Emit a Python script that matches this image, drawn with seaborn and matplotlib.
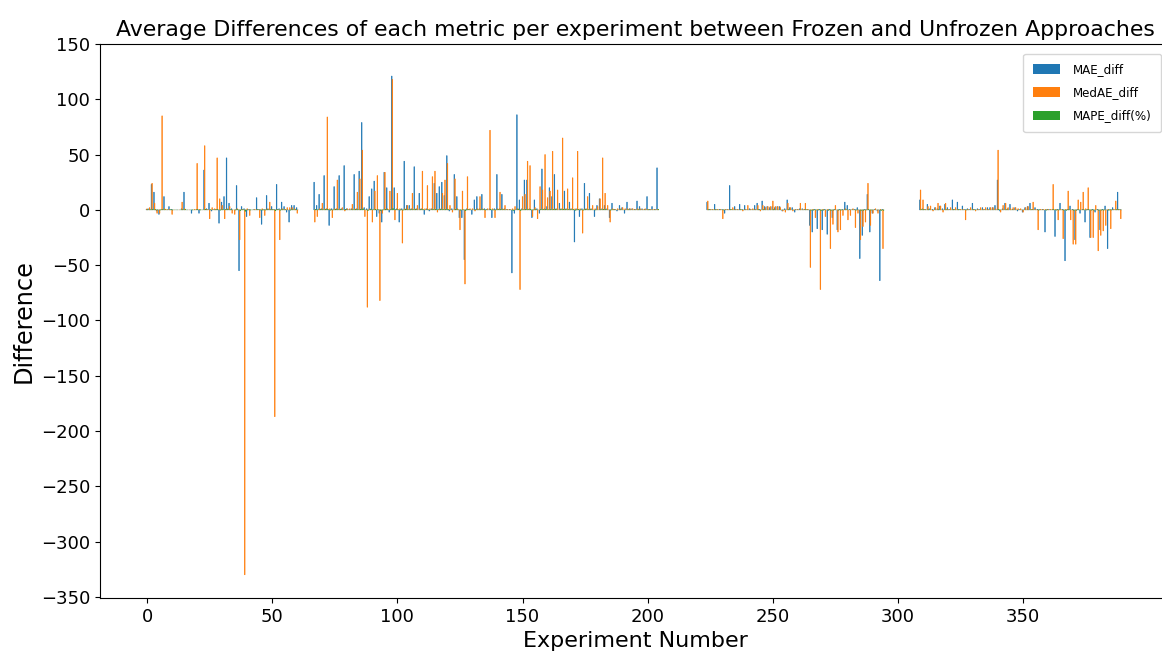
import matplotlib
matplotlib.use("Agg")
import matplotlib.pyplot as plt
import pandas as pd
import seaborn as sns

METRICS = ["MAE_diff", "MedAE_diff", "MAPE_diff(%)"]
COLORS = ["#1f77b4", "#ff7f0e", "#2ca02c"]

# ---- Segment A: experiments 0..60
START_A = 0
MAE_A = [0.5, 1, 23, 16, -1, -4, 0.5, 12, 0, 3,
         0.5, 0, 0, 0, 1, 16, 0, 0, -3, 0,
         0.5, -3, 0, 36, 1, 6, -1, 0.5, 0.5, -12,
         7, 12, 47, 6, 1, 0, 22, -55, 3, 1,
         -6, 0.5, 0, 0.5, 11, 0.5, -13, 0.5, 13, 1,
         3, 0.5, 23, 1, 7, 3, -2, -11, 4, 4, 2]
MEDAE_A = [1, 2, 24, 6, -3, -3, 85, 1, 0.5, 0.5,
           -4, 0, 0, 0, 7, 1, 0, 0, 0, 0.5,
           42, 0.5, 0, 58, 0.5, -8, 2, 1, 47, 10,
           4, -8, 1, 3, -3, -4, 1, -27, 0.5, -330,
           1, -5, 0, 0.5, 0.5, -7, 1, -5, 1, 7,
           0.5, -187, 0.5, -27, 1, 0.5, 2, 2, 2, 1, -3]
MAPE_A = [0.1, 0.1, 0.4, 0.3, -0.1, -0.1, 0.2, 0.2, 0.0, 0.1,
          -0.1, 0.0, 0.0, 0.0, 0.1, 0.3, 0.0, 0.0, -0.1, 0.0,
          0.3, -0.1, 0.0, 0.5, 0.0, 0.1, 0.0, 0.1, 0.3, -0.2,
          0.1, 0.2, 0.4, 0.1, 0.0, -0.1, 0.3, -0.6, 0.1, -1.2,
          -0.1, -0.1, 0.0, 0.0, 0.2, -0.1, -0.2, -0.1, 0.2, 0.1,
          0.1, -0.8, 0.3, -0.2, 0.1, 0.1, 0.0, -0.2, 0.1, 0.1, 0.0]

# ---- Segment B: experiments 67..204
START_B = 67
MAE_B = [25, 4, 14, 1, 31, 1, -14, 1, 21, 1,
         31, 1, 40, 1, 0.5, 1, 32, 1, 35, 79,
         2, 1, 12, 19, 26, -6, -3, -11, 34, 20,
         -2, 121, 20, 1, -11, 1, 44, 4, 4, 1,
         39, 1, 15, 1, -4, 1, -1, 1, 24, 15,
         21, 25, 13, 49, -1, 1, 32, 12, -7, -7,
         -45, 1, 0.5, -4, 9, 12, 1, 14, 1, 0.5,
         1, -7, 1, 32, 1, 14, 1, 0.5, 0.5, -57,
         -3, 86, 9, 1, 27, 27, 1, -7, 9, 1,
         -3, 37, 1, 3, 20, 12, 32, 1, 6, 1,
         17, 1, 7, 1, -29, 1, -6, 1, 24, 1,
         15, 1, -6, 4, 10, 1, 4, 1, -7, 6,
         0.5, -1, 4, 2, -3, 7, 1, 1, 0.5, 8,
         3, 1, 0.5, 12, 0.5, 3, 0.5, 38]
MEDAE_B = [-11, -6, 1, 6, 1, 84, 1, -7, 1, 27,
           1, 2, -1, 1, 1, 5, 1, 16, 28, 54,
           -6, -88, 1, -11, 17, 31, -82, -3, 34, 1,
           17, 118, -9, 15, 1, -30, 1, 4, 1, 15,
           1, 4, 1, 35, 1, 22, 1, 30, 35, -2,
           1, 15, 27, 42, 4, -2, 28, 1, -18, 17,
           -67, 30, 1, 1, -1, 1, 12, 1, -7, 1,
           72, 1, -7, 1, 16, 1, 4, 0.5, 0.5, 1,
           3, 1, -72, 12, 14, 44, 40, -6, 2, -8,
           21, 18, 50, 11, 17, 53, 1, 18, 1, 65,
           1, 19, 1, 29, 1, 53, 1, -21, 1, 12,
           1, 4, 1, 3, 10, 47, 15, 4, -11, 1,
           0.5, 1, 1, 2, 1, 1, 1, 1, 0.5, 1,
           1, 0.5, 1, 0.5, 0.5, 0.5, 0.5, 0.5]
MAPE_B = [0.3, 0.1, 0.2, 0.1, 0.4, 0.6, -0.2, -0.1, 0.3, 0.2,
          0.4, 0.0, 0.5, 0.0, 0.0, 0.1, 0.4, 0.2, 0.5, 0.9,
          0.0, -0.6, 0.2, 0.1, 0.3, 0.2, -0.5, -0.1, 0.4, 0.2,
          0.1, 1.2, 0.1, 0.2, -0.1, -0.2, 0.5, 0.1, 0.1, 0.2,
          0.4, 0.0, 0.2, 0.3, 0.0, 0.2, 0.0, 0.3, 0.4, 0.2,
          0.3, 0.3, 0.2, 0.6, 0.0, 0.0, 0.4, 0.1, -0.2, 0.1,
          -0.7, 0.3, 0.0, 0.0, 0.1, 0.1, 0.1, 0.2, -0.1, 0.0,
          0.5, -0.1, -0.1, 0.3, 0.2, 0.2, 0.0, 0.0, 0.0, -0.6,
          0.0, 0.8, -0.5, 0.1, 0.3, 0.4, 0.3, -0.1, 0.1, 0.0,
          0.2, 0.4, 0.4, 0.1, 0.2, 0.3, 0.3, 0.0, 0.3, 0.6,
          0.2, 0.2, 0.1, 0.3, -0.3, 0.5, -0.1, -0.2, 0.3, 0.1,
          0.2, 0.0, -0.1, 0.0, 0.1, 0.5, 0.2, 0.0, -0.2, 0.1,
          0.0, 0.0, 0.1, 0.0, 0.0, 0.1, 0.0, 0.0, 0.0, 0.1,
          0.0, 0.0, 0.0, 0.1, 0.0, 0.0, 0.0, 0.3]

# ---- Segment C: experiments 224..294
START_C = 224
MAE_C = [7, 0.5, 0.5, 5, 0.5, 0.5, 0.5, -3, 0.5, 22,
         0.5, 3, 0.5, 5, 0.5, 4, 0.5, 1, 0.5, 4,
         6, 0.5, 8, 3, 3, 2, 3, 2, 3, 3,
         -1, 1, 9, 2, 2, -2, 0.5, 1, 1, 0.5,
         0.5, -14, -20, 0.5, -17, 0.5, -18, 0.5, -22, 0.5,
         -7, 0.5, -18, 0.5, 0.5, 7, 4, 0.5, 0.5, 0.5,
         2, -44, -23, 0.5, 14, -20, -3, 0.5, -1, -64,
         0.5]
MEDAE_C = [8, 0.5, 0.5, 0.5, 0.5, 0.5, -8, 0.5, 0.5, 0.5,
           2, 0.5, 0.5, 0.5, -1, 0.5, 4, 0.5, 1, 0.5,
           4, -1, 4, 2, 3, 3, 8, 3, 3, 2,
           -1, -2, 6, 2, -1, 0.5, 0.5, 6, 0.5, 6,
           0.5, -52, 0.5, -7, 0.5, -72, 0.5, -6, 0.5, -35,
           -13, 4, -20, -18, -5, 1, -9, -5, 1, -16,
           -3, -27, -15, -11, 24, -14, -3, 1, -3, 0.5,
           -35]
MAPE_C = [0.1, 0.0, 0.0, 0.1, 0.0, 0.0, -0.1, 0.0, 0.0, 0.2,
          0.0, 0.0, 0.0, 0.1, 0.0, 0.0, 0.0, 0.0, 0.0, 0.0,
          0.1, 0.0, 0.1, 0.0, 0.0, 0.0, 0.1, 0.0, 0.0, 0.0,
          0.0, 0.0, 0.1, 0.0, 0.0, 0.0, 0.0, 0.0, 0.0, 0.1,
          0.0, -0.4, -0.2, -0.1, -0.1, -0.6, -0.2, 0.0, -0.3, -0.4,
          -0.2, 0.0, -0.2, -0.2, 0.0, 0.1, 0.0, 0.0, 0.0, -0.2,
          0.0, -0.5, -0.3, -0.1, 0.2, -0.2, 0.0, 0.0, 0.0, -0.6,
          -0.3]

# ---- Segment D: experiments 309..389
START_D = 309
MAE_D = [9, 1, 0.5, 5, 1, 0.5, 2, 1, 3.5, 1,
         5, 2, 0.5, 9, 0.5, 7, 0.5, 3.5, 0.5, 1,
         0.5, 6, 0.5, 1, 0.5, 2, 0.5, 2, 2, 2,
         4, 27, -1, 1, 6, 1, 5, 0.5, 2, -1,
         0.5, -2, 2, 3, 6, 0.5, 2, 0.5, 0.5, 0.5,
         -20, 0.5, 0.5, 0.5, -24, 0.5, 6, 0.5, -46, 0.5,
         3.5, 0.5, -27, 0.5, -3, 0.5, -11, 0.5, -25, 0.5,
         -2, 0.5, -18, 0.5, 3.5, -35, 0.5, 2, 0.5, 16,
         0.5]
MEDAE_D = [18, 9, 0.5, 3, 3.5, -1, 2, 6, 3.5, -2,
           6, 0.5, 2, 0.5, 2, 0.5, 0.5, 0.5, -9, 0.5,
           2, 0.5, -1, 0.5, 2, 0.5, 2, 0.5, 2, 2,
           1, 54, -2, 4, 6, 2, 1, 2, 2, 1,
           1, -2, 2, 3, 0.5, 7, 0.5, -18, 0.5, 0.5,
           0.5, 0.5, 0.5, 23, 0.5, -9, 0.5, -26, 0.5, 17,
           -9, -31, -31, 9, 7, 16, 1, 20, -25, -25,
           4, -37, -23, -19, -14, 0.5, -17, 0.5, 8, 0.5,
           -8]
MAPE_D = [0.2, 0.1, 0.0, 0.1, 0.0, 0.0, 0.0, 0.1, 0.0, 0.0,
          0.1, 0.0, 0.0, 0.1, 0.0, 0.1, 0.0, 0.0, -0.1, 0.0,
          0.0, 0.1, 0.0, 0.0, 0.0, 0.0, 0.0, 0.0, 0.0, 0.0,
          0.0, 0.5, 0.0, 0.0, 0.1, 0.0, 0.0, 0.0, 0.0, 0.0,
          0.0, 0.0, 0.0, 0.0, 0.1, 0.0, 0.0, -0.2, 0.0, 0.0,
          -0.2, 0.0, 0.0, 0.2, -0.2, -0.1, 0.0, -0.2, -0.4, 0.1,
          0.0, -0.3, -0.3, 0.1, 0.0, 0.1, -0.1, 0.2, -0.2, -0.2,
          0.0, -0.3, -0.2, -0.2, 0.0, -0.3, -0.1, 0.0, 0.1, 0.1,
          0.0]

segments = [
    (START_A, MAE_A, MEDAE_A, MAPE_A),
    (START_B, MAE_B, MEDAE_B, MAPE_B),
    (START_C, MAE_C, MEDAE_C, MAPE_C),
    (START_D, MAE_D, MEDAE_D, MAPE_D),
]

rows = []
for start, mae, med, mape in segments:
    n = min(len(mae), len(med), len(mape))
    for k in range(n):
        e = start + k
        rows.append((e, METRICS[0], mae[k]))
        rows.append((e, METRICS[1], med[k]))
        rows.append((e, METRICS[2], mape[k]))
df = pd.DataFrame(rows, columns=["Experiment", "Metric", "Difference"])

fig = plt.figure(figsize=(11.62, 6.58), dpi=100)
ax = fig.add_axes([0.0861, 0.0912, 0.9215, 0.8419])

sns.barplot(data=df, x="Experiment", y="Difference", hue="Metric",
            hue_order=METRICS, palette=COLORS, native_scale=True,
            errorbar=None, saturation=1, width=0.8, ax=ax)

# thin bars: avoid pixel snapping that would drop sub-pixel bars
for p in ax.patches:
    p.set_snap(False)
    p.set_edgecolor(p.get_facecolor())
    p.set_linewidth(0.4)

ax.set_xlim(-18.8, 409)
ax.set_ylim(-351, 150)
ax.set_xticks(range(0, 351, 50))
ax.set_yticks(range(-350, 151, 50))
ax.tick_params(axis="both", labelsize=13)
ax.set_title("Average Differences of each metric per experiment between Frozen and Unfrozen Approaches",
             fontsize=15.8)
ax.set_xlabel("Experiment Number", fontsize=16)
ax.set_ylabel("Difference", fontsize=17.3)

sns.move_legend(ax, "upper right", title=None, fontsize=8.6, frameon=True,
                labelspacing=0.85, handlelength=2.25, handleheight=0.83,
                handletextpad=1.1, borderpad=0.8, borderaxespad=0.8)

fig.savefig("out.png", dpi=100)
